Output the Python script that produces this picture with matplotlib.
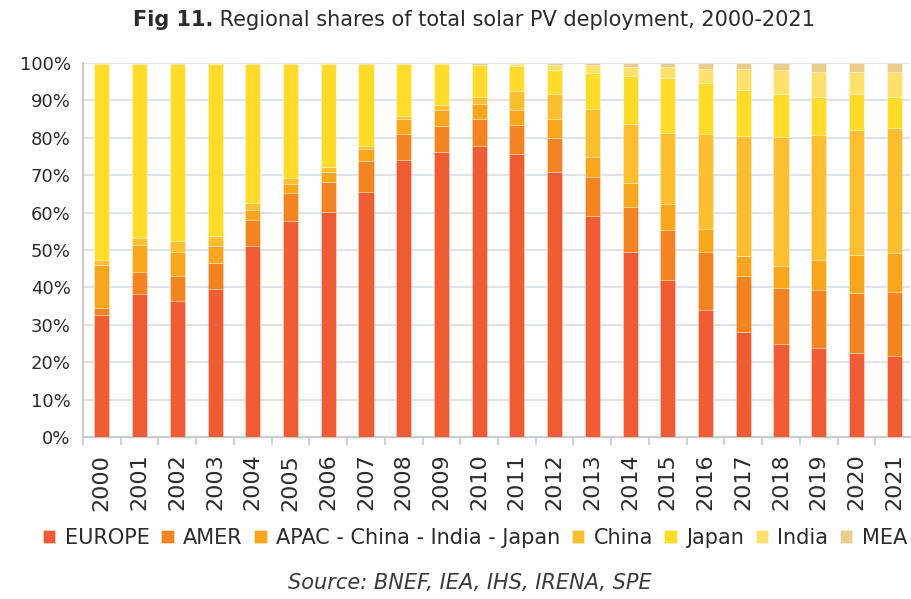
import matplotlib
matplotlib.use("Agg")
import matplotlib.pyplot as plt
import numpy as np

years = [str(y) for y in range(2000, 2022)]
europe = [32.5, 38.2, 36.3, 39.6, 51.0, 57.8, 60.1, 65.4, 74.1, 76.1, 77.7, 75.8, 70.9, 59.0, 49.4, 42.0, 34.0, 28.0, 24.8, 23.7, 22.4, 21.6]
amer   = [2.0, 5.9, 6.7, 6.9, 7.0, 7.4, 8.2, 8.3, 6.8, 7.1, 7.2, 7.5, 9.0, 10.4, 12.0, 13.3, 15.4, 15.0, 15.0, 15.6, 16.0, 17.1]
apac   = [11.4, 7.3, 6.4, 4.7, 2.8, 2.5, 2.5, 3.2, 4.1, 4.1, 4.1, 4.0, 5.1, 5.4, 6.4, 7.1, 6.2, 5.3, 5.8, 8.1, 10.2, 10.4]
china  = [1.3, 1.7, 2.9, 2.5, 1.9, 1.5, 1.3, 1.0, 0.9, 1.5, 1.8, 5.1, 6.7, 12.9, 15.8, 18.8, 25.4, 32.3, 34.7, 33.3, 33.6, 33.4]
japan  = [52.4, 46.5, 47.3, 45.9, 36.9, 30.4, 27.5, 21.7, 13.7, 10.8, 8.6, 6.7, 6.3, 9.5, 12.8, 14.7, 13.7, 12.1, 11.3, 10.1, 9.4, 8.5]
india  = [0.0, 0.0, 0.0, 0.0, 0.0, 0.0, 0.0, 0.0, 0.0, 0.0, 0.1, 0.5, 1.5, 2.2, 2.4, 2.9, 3.8, 5.8, 6.5, 6.9, 6.1, 6.6]
mea    = [0.4, 0.4, 0.4, 0.4, 0.4, 0.4, 0.4, 0.4, 0.4, 0.4, 0.5, 0.4, 0.5, 0.6, 1.2, 1.2, 1.5, 1.5, 1.9, 2.3, 2.3, 2.4]

series_names = ["EUROPE", "AMER", "APAC - China - India - Japan", "China", "Japan", "India", "MEA"]
series_vals = [europe, amer, apac, china, japan, india, mea]
colors = ["#F05C33", "#F38421", "#F8A61C", "#FDBF30", "#FFDC2A", "#FEE06C", "#E9CD8B"]

plt.rcParams['font.family'] = ['DejaVu Sans']
text_color = "#2b2b2b"

fig = plt.figure(figsize=(9.11, 5.99), dpi=100)
ax = fig.add_axes([83/911, 1 - 437/599, (910-83)/911, (437-63)/599])

x = np.arange(len(years))
bottom = np.zeros(len(years))
handles = []
for name, vals, c in zip(series_names, series_vals, colors):
    v = np.array(vals, dtype=float)
    b = ax.bar(x, v, width=0.4, bottom=bottom, color=c, edgecolor=(1, 1, 1, 0.35), linewidth=0.6, label=name, zorder=3)
    handles.append(b)
    bottom += v

ax.set_ylim(0, 100)
ax.set_xlim(-0.5, 21.42)
ax.set_yticks(np.arange(0, 101, 10))
ax.set_yticklabels([f"{v}%" for v in range(0, 101, 10)], fontsize=13, color=text_color)
ax.yaxis.grid(True, color="#DCDFE5", linewidth=1.3, zorder=0)
ax.tick_params(axis='y', length=0, pad=9)

ax.set_xticks(x)
ax.set_xticklabels(years, rotation=90, fontsize=16, color=text_color)
ax.set_xticks(np.arange(-0.5, 21.5, 1.0), minor=True)
ax.tick_params(axis='x', which='major', length=0, pad=12)
ax.tick_params(axis='x', which='minor', length=6, width=1.2, color="#C9CCD2")

for s in ["top", "right"]:
    ax.spines[s].set_visible(False)
ax.spines["left"].set_color("#C0C0C0")
ax.spines["left"].set_linewidth(1.2)
ax.spines["bottom"].set_color("#C9CCD2")
ax.spines["bottom"].set_linewidth(1.5)
ax.set_axisbelow(True)

leg = fig.legend(handles=handles, labels=series_names, loc="center", bbox_to_anchor=(475/911, 1 - 538/599),
                 ncol=7, frameon=False, fontsize=15, handlelength=0.6, handleheight=0.6,
                 handletextpad=0.45, columnspacing=0.55, borderaxespad=0)
for t in leg.get_texts():
    t.set_color(text_color)

fig.text(470/911, 1 - 583/599, "Source: BNEF, IEA, IHS, IRENA, SPE", ha="center", va="center",
         fontsize=15, style="italic", color="#3a3a3a")

t1 = fig.text(133/911, 1 - 20/599, "Fig 11.", ha="left", va="center", fontsize=15,
              fontweight="bold", color=text_color)
fig.canvas.draw()
fig.text(0, 0, "", fontsize=1)
ax.annotate(" Regional shares of total solar PV deployment, 2000-2021", xy=(1, 0.5), xycoords=t1,
            ha="left", va="center", fontsize=15, color=text_color, annotation_clip=False)

fig.savefig("out.png", dpi=100)
